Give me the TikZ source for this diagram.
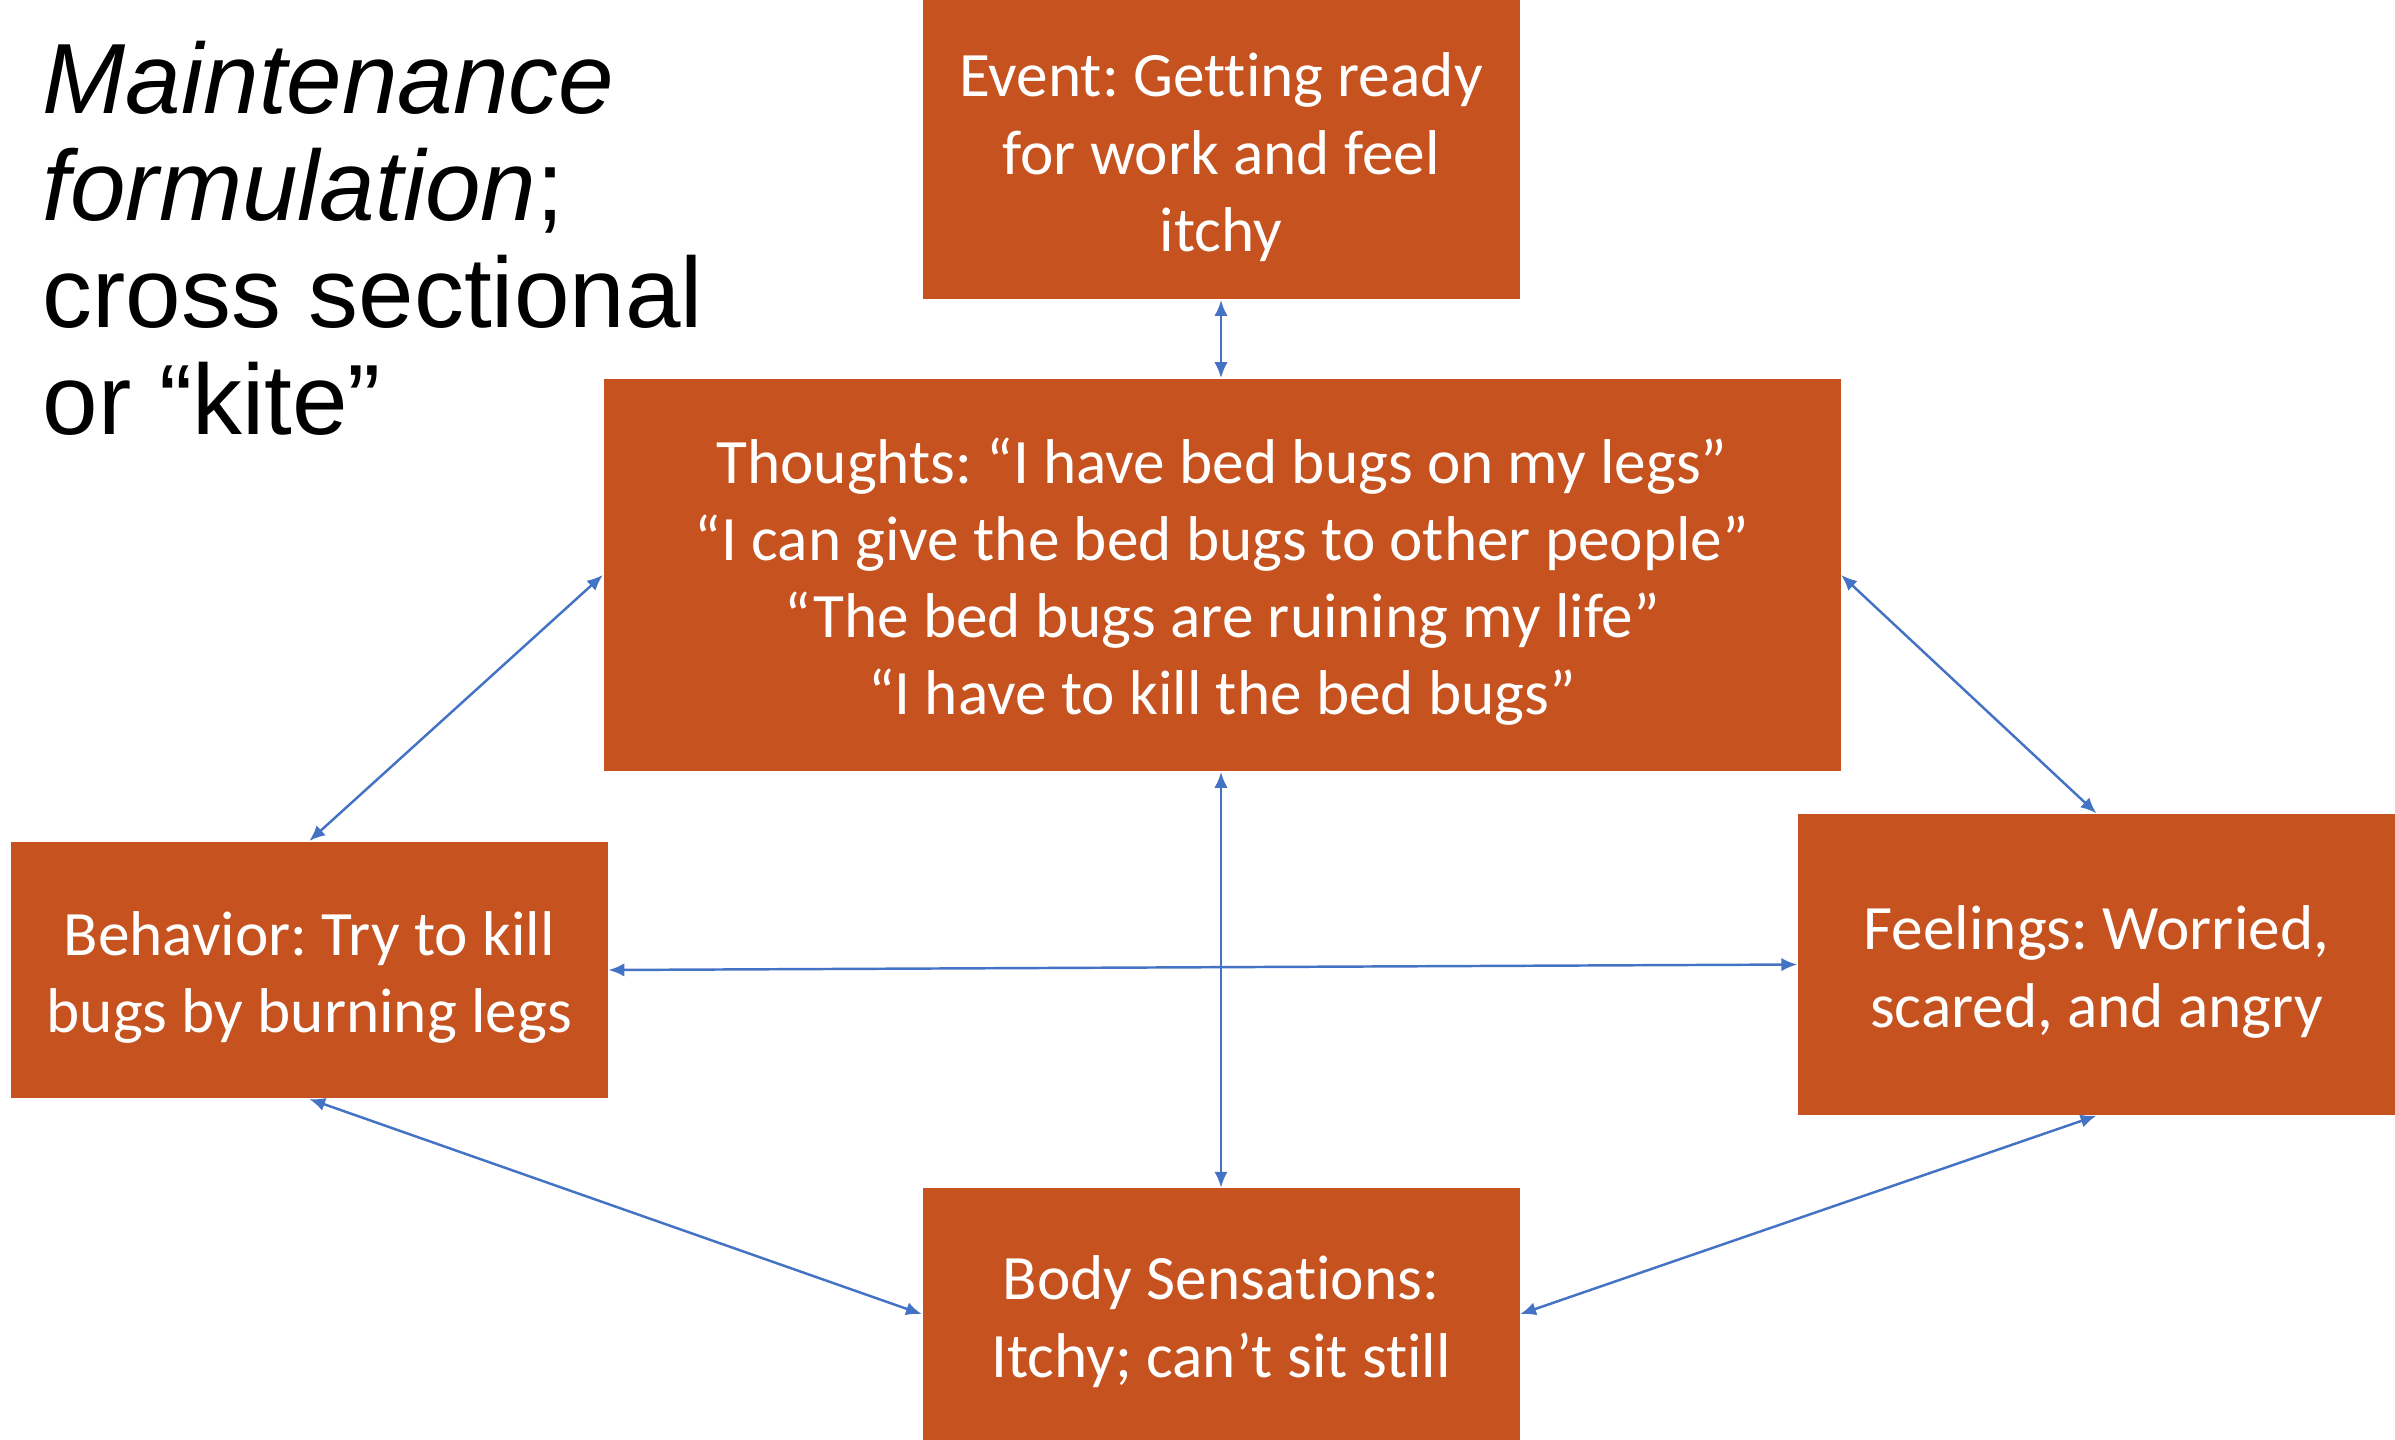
\documentclass[tikz,border=0pt]{standalone}
\usepackage{fontspec}
\setmainfont{Carlito}[Ligatures=NoCommon]
\newfontfamily\headfont{Liberation Sans}
\usetikzlibrary{arrows.meta}
\frenchspacing
\definecolor{boxfill}{RGB}{197,82,31}
\definecolor{linkblue}{RGB}{68,114,196}
% a little extra room above the first line of each box
\newcommand\boxlead{\rule{0pt}{0.93em}}
\tikzset{
  kitebox/.style={fill=boxfill, draw=none, text=white, align=center, inner sep=0pt,
    minimum width=5.97cm, font=\fontsize{18}{22}\selectfont},
  link/.style={draw=linkblue, line width=0.7pt,
    {Latex[length=4.5pt,width=3.8pt]}-{Latex[length=4.5pt,width=3.8pt]}},
  headline/.style={anchor=base west, inner sep=0pt, font=\headfont\fontsize{28.4}{30.4}\selectfont}
}
\begin{document}
\begin{tikzpicture}
\fill[white] (0,0) rectangle (23.95,-14.4);
\useasboundingbox (0,0) rectangle (23.95,-14.4);

% heading
\node[headline] (h1) at (0.42,-1.133) {\itshape Maintenance};
\node[headline] (h2) at (0.42,-2.20) {\textit{formulation};};
\node[headline] (h3) at (0.42,-3.27) {cross sectional};
\node[headline] (h4) at (0.42,-4.34) {or “kite”};

% the five parts of the formulation
\node[kitebox, minimum height=2.994cm] (event) at (12.21,-1.497)
  {\boxlead Event: Getting ready\\for work and feel\\itchy};
\node[kitebox, minimum width=12.37cm, minimum height=3.925cm] (thoughts) at (12.22,-5.75)
  {\boxlead Thoughts: “I have bed bugs on my legs”\\“I can give the bed bugs to other people”\\“The bed bugs are ruining my life”\\“I have to kill the bed bugs”};
\node[kitebox, minimum height=2.566cm] (behavior) at (3.093,-9.70)
  {\boxlead Behavior: Try to kill\\bugs by burning legs};
\node[kitebox, minimum height=3.01cm] (feelings) at (20.964,-9.645)
  {\boxlead Feelings: Worried,\\scared, and angry};
\node[kitebox, minimum height=2.517cm] (body) at (12.21,-13.1415)
  {\boxlead Body Sensations:\\Itchy; can’t sit still};

% two-way links
\draw[link] (event.south) -- (event.south |- thoughts.north);
\draw[link] (thoughts.west) -- (behavior.north);
\draw[link] (thoughts.east) -- (feelings.north);
\draw[link] (body.north |- thoughts.south) -- (body.north);
\draw[link] (behavior.east) -- (feelings.west);
\draw[link] (behavior.south) -- (body.west);
\draw[link] (feelings.south) -- (body.east);
\end{tikzpicture}
\end{document}
